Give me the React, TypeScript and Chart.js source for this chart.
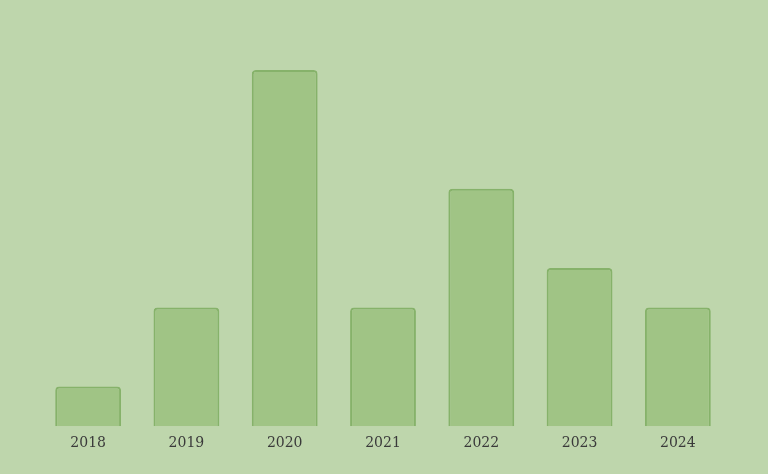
import React, { useEffect, useRef } from "react";
import { Chart, registerables } from "chart.js";

Chart.register(...registerables);

const categories = ["2018", "2019", "2020", "2021", "2022", "2023", "2024"];
const values = [1, 3, 9, 3, 6, 4, 3];

export default function App() {
  const ref = useRef<HTMLCanvasElement | null>(null);
  useEffect(() => {
    document.body.style.margin = "0";
    document.body.style.background = "#bed6ac";
    const chart = new Chart(ref.current!, {
      type: "bar",
      data: {
        labels: categories,
        datasets: [
          {
            data: values,
            backgroundColor: "#a0c485",
            borderColor: "#86b26a",
            borderWidth: 2,
            borderRadius: 4,
            borderSkipped: "bottom",
            barPercentage: 0.67,
            categoryPercentage: 1,
          },
        ],
      },
      options: {
        responsive: false,
        animation: false,
        layout: { padding: { left: 39, right: 41, top: 70, bottom: 21 } },
        plugins: { legend: { display: false }, tooltip: { enabled: false } },
        scales: {
          y: { display: false, min: 0, max: 9 },
          x: {
            grid: { display: false },
            border: { display: false },
            ticks: {
              color: "#3a3a3a",
              font: { family: "'DejaVu Serif', serif", size: 14 },
              padding: 1,
            },
          },
        },
      },
    });
    return () => chart.destroy();
  }, []);
  return (
    <div style={{ width: 768, height: 474, background: "#bed6ac" }}>
      <canvas ref={ref} width={768} height={474} style={{ display: "block" }} />
    </div>
  );
}
